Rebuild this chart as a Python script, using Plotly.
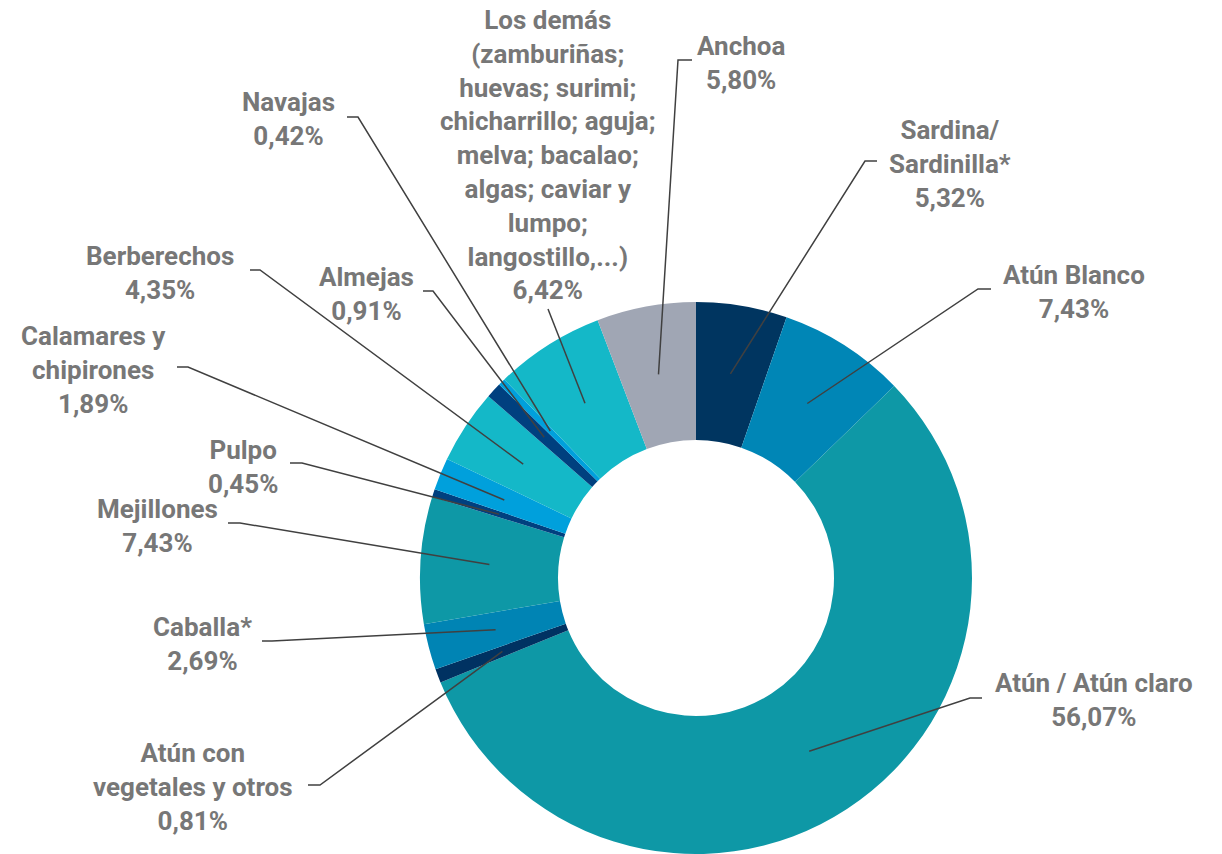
import math
import plotly.graph_objects as go

# ---- data (clockwise from 12 o'clock) ----
categories = [
    "Sardina/ Sardinilla*", "Atún Blanco", "Atún / Atún claro",
    "Atún con vegetales y otros", "Caballa*", "Mejillones", "Pulpo",
    "Calamares y chipirones", "Berberechos", "Almejas", "Navajas",
    "Los demás", "Anchoa",
]
label_lines = [
    "Sardina/<br>Sardinilla*", "Atún Blanco", "Atún / Atún claro",
    "Atún con<br>vegetales y otros", "Caballa*", "Mejillones", "Pulpo",
    "Calamares y<br>chipirones", "Berberechos", "Almejas", "Navajas",
    "Los demás<br>(zamburiñas;<br>huevas; surimi;<br>chicharrillo; aguja;<br>melva; bacalao;<br>algas; caviar y<br>lumpo;<br>langostillo,...)",
    "Anchoa",
]
values = [5.32, 7.43, 56.07, 0.81, 2.69, 7.43, 0.45, 1.89, 4.35, 0.91, 0.42, 6.42, 5.80]
colors = ["#003560", "#0086B6", "#0E98A6", "#003262", "#0084B4", "#0E98A6", "#00407F",
          "#00A0DC", "#14B8C8", "#00407F", "#00A0DC", "#14B8C8", "#A0A6B4"]

# ---- layout (pixel positions of label blocks and leader-line elbows) ----
W, H = 1222, 854
CX, CY, R = 696, 578, 276
HOLE = 0.5
label_center = [(950, 164), (1074, 292), (1094, 700), (193, 787), (202, 644), (157, 526),
                 (243, 467), (93, 370), (160, 273), (366, 294), (288, 119), (548, 155), (741, 63)]
elbow_start = [(877, 161), (991, 289), (982, 698), (308, 785), (262, 641), (228, 523),
               (290, 463), (177, 367), (250, 270), (423, 291), (347, 117), (548, 309), (692, 60)]
elbow_turn = [(865, 161), (978, 289), (970, 698), (320, 785), (272, 641), (240, 523),
              (302, 463), (188, 367), (260, 270), (433, 291), (358, 117), (548, 309), (678, 60)]

FONT = dict(family="Roboto, Arial, sans-serif", size=26, color="#777777", weight=700)

fig = go.Figure()
fig.add_trace(go.Pie(
    labels=categories, values=values, sort=False, direction="clockwise", rotation=0,
    hole=HOLE, marker=dict(colors=colors, line=dict(width=0)), textinfo="none",
    hoverinfo="label+percent",
    domain=dict(x=[(CX - R) / W, (CX + R) / W], y=[(H - CY - R) / H, (H - CY + R) / H]),
    showlegend=False,
))
# invisible pixel-space axes for labels and leader lines
fig.add_trace(go.Scatter(x=[0, W], y=[0, H], mode="markers", marker=dict(opacity=0),
                         hoverinfo="skip", showlegend=False))

total = sum(values)
r_mid = R * (1 + HOLE) / 2
cum = 0.0
shapes = []
annotations = []
for i, v in enumerate(values):
    ang = 2 * math.pi * (cum + v / 2) / total
    cum += v
    px = CX + r_mid * math.sin(ang)
    py = CY - r_mid * math.cos(ang)
    (x0, y0), (x1, y1) = elbow_start[i], elbow_turn[i]
    shapes.append(dict(type="path", xref="x", yref="y",
                       path=f"M {x0},{y0} L {x1},{y1} L {px:.1f},{py:.1f}",
                       line=dict(color="#404040", width=1.5), layer="above"))
    pct = f"{v:.2f}".replace(".", ",") + "%"
    cx, cy = label_center[i]
    annotations.append(dict(x=cx, y=cy, xref="x", yref="y", text=f"{label_lines[i]}<br>{pct}",
                            showarrow=False, xanchor="center", yanchor="middle", align="center",
                            font=FONT))

fig.update_layout(
    width=W, height=H, margin=dict(l=0, r=0, t=0, b=0),
    paper_bgcolor="white", plot_bgcolor="rgba(0,0,0,0)",
    xaxis=dict(range=[0, W], visible=False, domain=[0, 1], fixedrange=True),
    yaxis=dict(range=[H, 0], visible=False, domain=[0, 1], fixedrange=True),
    shapes=shapes, annotations=annotations,
)
fig.write_html("out.html", config={"displayModeBar": False},
               post_script="document.body.style.margin='0';document.body.style.overflow='hidden';")
